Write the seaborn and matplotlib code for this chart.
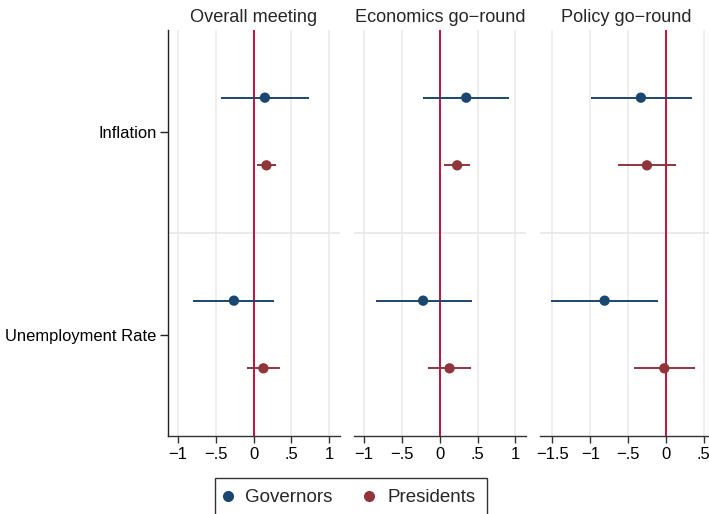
import numpy as np
import pandas as pd
import matplotlib
matplotlib.use("Agg")
import matplotlib.pyplot as plt
from matplotlib.lines import Line2D
import seaborn as sns

# Coefficient estimates with 95% confidence intervals
panels = ["Overall meeting", "Economics go\u2212round", "Policy go\u2212round"]
variables = ["Inflation", "Unemployment Rate"]
groups = ["Governors", "Presidents"]

# order: (Inflation, Governors), (Inflation, Presidents),
#        (Unemployment, Governors), (Unemployment, Presidents)
overall_est = [0.15, 0.17, -0.26, 0.13]
overall_lo = [-0.43, 0.05, -0.80, -0.09]
overall_hi = [0.73, 0.29, 0.27, 0.35]

econ_est = [0.35, 0.23, -0.22, 0.13]
econ_lo = [-0.22, 0.06, -0.85, -0.15]
econ_hi = [0.92, 0.40, 0.43, 0.41]

policy_est = [-0.33, -0.25, -0.81, -0.02]
policy_lo = [-0.99, -0.63, -1.52, -0.42]
policy_hi = [0.35, 0.14, -0.10, 0.39]

x_ticks = [[-1, -0.5, 0, 0.5, 1], [-1, -0.5, 0, 0.5, 1], [-1.5, -1, -0.5, 0, 0.5]]
x_limits = [(-1.136, 1.143), (-1.135, 1.145), (-1.665, 0.615)]

colors = {"Governors": "#1a476f", "Presidents": "#90353b"}
zero_color = "#c4103c"
grid_color = "#e9e9e9"

rows = []
for p, est, lo, hi in zip(panels,
                          [overall_est, econ_est, policy_est],
                          [overall_lo, econ_lo, policy_lo],
                          [overall_hi, econ_hi, policy_hi]):
    k = 0
    for vi, v in enumerate(variables):
        for g in groups:
            rows.append(dict(panel=p, variable=v, var_idx=vi, group=g,
                             est=est[k], lo=lo[k], hi=hi[k]))
            k += 1
df = pd.DataFrame(rows)
offsets = {"Governors": -1 / 6, "Presidents": 1 / 6}
df["ypos"] = df["var_idx"] + df["group"].map(offsets)

sns.set_theme(style="white")
plt.rcParams["font.family"] = ["Liberation Sans", "DejaVu Sans"]

def fmt(v):
    if v == 0:
        return "0"
    s = f"{abs(v):g}"
    if s.startswith("0."):
        s = s[1:]
    return ("\u2212" if v < 0 else "") + s

fig = plt.figure(figsize=(7.09, 5.14), dpi=100)
lefts = [167.7 / 709, 354 / 709, 540 / 709]
width = 172.3 / 709
bottom = 78 / 514
height = 406 / 514

for i, p in enumerate(panels):
    ax = fig.add_axes([lefts[i], bottom, width, height])
    sub = df[df["panel"] == p]
    ax.set_xlim(*x_limits[i])
    ax.set_ylim(1.5, -0.5)
    for t in x_ticks[i]:
        ax.axvline(t, color=grid_color, lw=1.1, zorder=0)
    ax.axhline(0.5, color=grid_color, lw=1.3, zorder=0)
    ax.axvline(0, color=zero_color, lw=1.4, zorder=1)
    for g in groups:
        sg = sub[sub["group"] == g]
        ax.hlines(sg["ypos"], sg["lo"], sg["hi"], color=colors[g], lw=1.4, zorder=2)
    sns.scatterplot(data=sub, x="est", y="ypos", hue="group", palette=colors,
                    hue_order=groups, s=55, edgecolor="none", legend=False,
                    ax=ax, zorder=3)
    ax.set_xlabel("")
    ax.set_ylabel("")
    ax.set_title(p, fontsize=13.1, pad=6)
    ax.set_xticks(x_ticks[i])
    ax.set_xticklabels([fmt(t) for t in x_ticks[i]], fontsize=12)
    ax.tick_params(axis="x", bottom=True, length=5, width=1, color="#333333",
                   pad=3, labelcolor="black")
    for s in ["top", "right"]:
        ax.spines[s].set_visible(False)
    ax.spines["bottom"].set_color("#333333")
    ax.spines["bottom"].set_linewidth(1)
    if i == 0:
        ax.set_yticks([0, 1])
        ax.set_yticklabels(variables, fontsize=11.9)
        ax.tick_params(axis="y", left=True, length=6, width=1, color="#222222",
                       pad=2, labelcolor="black")
        ax.spines["left"].set_color("#222222")
        ax.spines["left"].set_linewidth(1)
    else:
        ax.set_yticks([])
        ax.spines["left"].set_visible(False)

handles = [Line2D([], [], ls="none", marker="o", markersize=8,
                  markerfacecolor=colors[g], markeredgecolor="none")
           for g in groups]
leg = fig.legend(handles, groups, loc="lower center", ncol=2,
                 bbox_to_anchor=(0.495, -0.025), frameon=True, fancybox=False,
                 fontsize=13.5, handletextpad=0.9, columnspacing=1.9,
                 handlelength=0.1, borderpad=0.6, borderaxespad=0.5)
leg.get_frame().set_edgecolor("black")
leg.get_frame().set_linewidth(1)

fig.savefig("out.png", dpi=100)
